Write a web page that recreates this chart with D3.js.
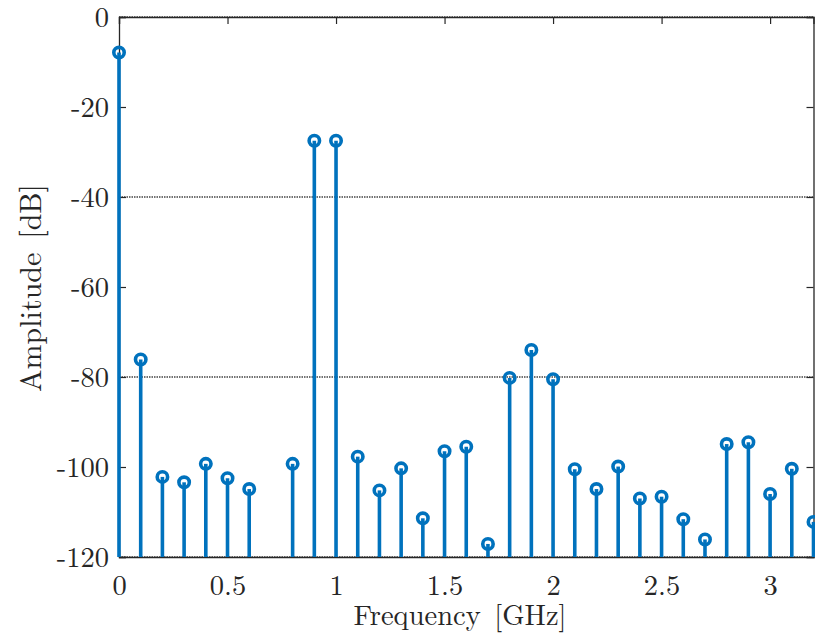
<!DOCTYPE html>
<html>
<head>
<meta charset="utf-8">
<script src="https://cdn.jsdelivr.net/npm/d3@7"></script>
<style>
  body { margin: 0; background: #fff; }
  svg { display: block; }
</style>
</head>
<body>
<div id="chart"></div>
<script>
// SVG parameter
var svgWidth = 815;
var svgHeight = 638;

var margin = {
    top: 17,
    right: 1.5,
    bottom: 81,
    left: 119
};

var chartHeight = svgHeight - margin.top - margin.bottom;
var chartWidth = svgWidth - margin.left - margin.right;

// Data: frequency (GHz) and amplitude (dB)
var frequencies = [0, 0.1, 0.2, 0.3, 0.4, 0.5, 0.6, 0.8, 0.9, 1.0,
    1.1, 1.2, 1.3, 1.4, 1.5, 1.6, 1.7, 1.8, 1.9, 2.0,
    2.1, 2.2, 2.3, 2.4, 2.5, 2.6, 2.7, 2.8, 2.9, 3.0, 3.1, 3.2];
var amplitudes = [-7.9, -76.1, -102.2, -103.4, -99.3, -102.5, -104.9, -99.3, -27.5, -27.5,
    -97.7, -105.2, -100.3, -111.4, -96.5, -95.5, -117.1, -80.2, -74.0, -80.5,
    -100.5, -104.9, -99.9, -107.0, -106.6, -111.6, -116.1, -94.9, -94.5, -106.0, -100.4, -112.2];
var xTicks = [0, 0.5, 1, 1.5, 2, 2.5, 3];
var yTicks = [-120, -100, -80, -60, -40, -20, 0];
var gridValues = [0, -40, -80, -120];

var stemColor = "#0072BD";
var fontFamily = "'Latin Modern Roman', 'Liberation Serif', serif";

var svg = d3.select("#chart")
    .append("svg")
    .attr("width", svgWidth)
    .attr("height", svgHeight);

var chartGroup = svg.append("g")
    .attr("transform", `translate(${margin.left}, ${margin.top})`);

var xScale = d3.scaleLinear().domain([0, 3.2]).range([0, chartWidth]);
var yScale = d3.scaleLinear().domain([-120, 0]).range([chartHeight, 0]);

// grid lines (only at 0, -40, -80, -120)
chartGroup.selectAll(".grid")
    .data(gridValues)
    .enter()
    .append("line")
    .attr("x1", 0)
    .attr("x2", chartWidth)
    .attr("y1", d => yScale(d))
    .attr("y2", d => yScale(d))
    .attr("stroke", "#444")
    .attr("stroke-width", 1.3)
    .attr("stroke-dasharray", "1.5,1");

// axes box with inner ticks
var tickLen = 7;
var bottomAxis = d3.axisBottom(xScale).tickValues(xTicks).tickSize(-tickLen).tickFormat(d => String(d));
var topAxis = d3.axisTop(xScale).tickValues(xTicks).tickSize(-tickLen).tickFormat("");
var leftAxis = d3.axisLeft(yScale).tickValues(yTicks).tickSize(-tickLen).tickFormat(d => String(d));
var rightAxis = d3.axisRight(yScale).tickValues(yTicks).tickSize(-tickLen).tickFormat("");

var xAxisG = chartGroup.append("g")
    .attr("transform", `translate(0, ${chartHeight})`)
    .call(bottomAxis);
chartGroup.append("g").call(topAxis);
var yAxisG = chartGroup.append("g").call(leftAxis);
chartGroup.append("g")
    .attr("transform", `translate(${chartWidth}, 0)`)
    .call(rightAxis);

chartGroup.selectAll(".domain").attr("stroke", "#262626").attr("stroke-width", 1.3);
chartGroup.selectAll(".tick line").attr("stroke", "#262626").attr("stroke-width", 1.2);

xAxisG.selectAll("text")
    .attr("y", 18)
    .style("font-family", fontFamily)
    .style("font-size", "28.5px")
    .attr("fill", "#262626");
yAxisG.selectAll("text")
    .attr("x", -10)
    .attr("dy", "0.33em")
    .style("font-family", fontFamily)
    .style("font-size", "28.5px")
    .attr("fill", "#262626");

// stems from the -120 baseline
var stems = chartGroup.append("g");
stems.selectAll(".stem")
    .data(frequencies)
    .enter()
    .append("line")
    .attr("x1", d => xScale(d))
    .attr("x2", d => xScale(d))
    .attr("y1", yScale(-120))
    .attr("y2", (d, i) => yScale(amplitudes[i]))
    .attr("stroke", stemColor)
    .attr("stroke-width", 3.6);

stems.selectAll(".marker")
    .data(frequencies)
    .enter()
    .append("circle")
    .attr("cx", d => xScale(d))
    .attr("cy", (d, i) => yScale(amplitudes[i]))
    .attr("r", 5.2)
    .attr("fill", "none")
    .attr("stroke", stemColor)
    .attr("stroke-width", 3.6);

// axis labels
svg.append("text")
    .attr("x", 460)
    .attr("y", 625)
    .attr("text-anchor", "middle")
    .style("font-family", fontFamily)
    .style("font-size", "28.5px")
    .style("word-spacing", "4px")
    .attr("fill", "#262626")
    .text("Frequency [GHz]");

svg.append("text")
    .attr("transform", `translate(41, 288) rotate(-90)`)
    .attr("text-anchor", "middle")
    .style("font-family", fontFamily)
    .style("font-size", "30px")
    .style("word-spacing", "4px")
    .attr("fill", "#262626")
    .text("Amplitude [dB]");
</script>
</body>
</html>
